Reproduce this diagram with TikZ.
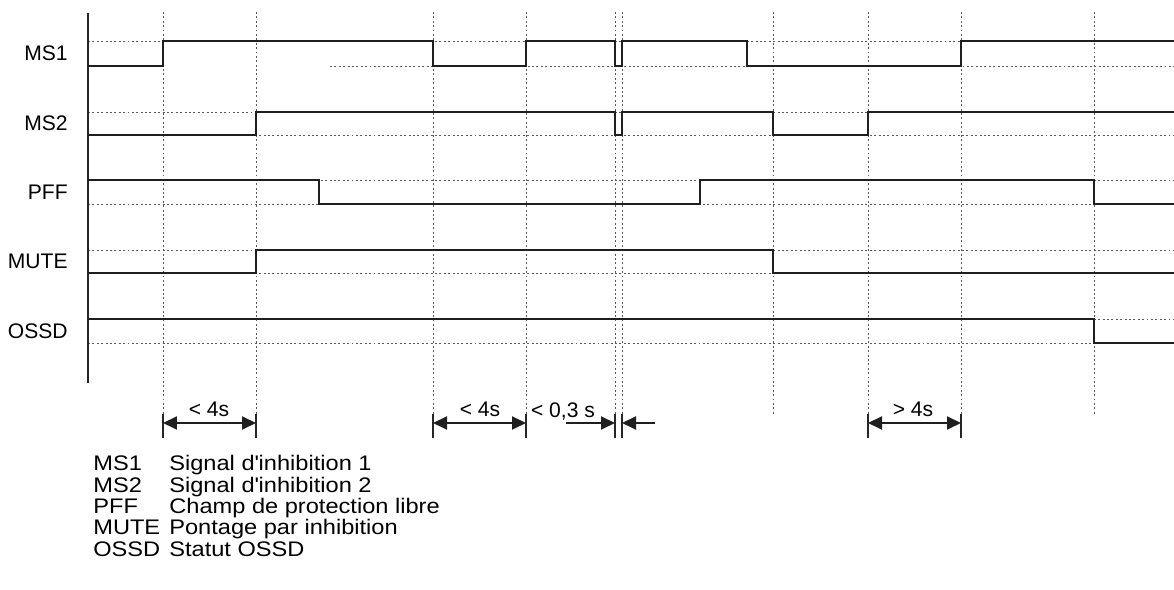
\documentclass[tikz,border=0pt]{standalone}
\usepackage{fontspec}
\setmainfont{Liberation Sans}
\newfontfamily\legfont[FakeStretch=1.12]{Liberation Sans}
\usetikzlibrary{arrows.meta}

\begin{document}
\begin{tikzpicture}[
                x=0.02cm, y=-0.02cm,
                trace/.style={line width=1.1pt, black!88},
                grille/.style={line width=0.55pt, black!65, dash pattern=on 1.1pt off 1.4pt},
                axe/.style={line width=1.1pt, black!85},
                repere/.style={line width=1.1pt, black!85},
                cote/.style={line width=1.1pt, black!88, >={Triangle[length=0.28cm, width=0.26cm]}, <->},
                texte/.style={font=\fontsize{12}{14.4}\selectfont, inner sep=0pt},
                legende/.style={font=\legfont\fontsize{12}{14.4}\selectfont, inner sep=0pt, anchor=base west}
            ]
                \useasboundingbox (0,0) rectangle (1174,590);
                % grille
                \foreach \x in {163,256,433,526,615,622,773,868,961,1094}
                    \draw[grille] (\x,12) -- (\x,415);
                \foreach \h/\b/\d in {41/66/330, 112/135/88, 180/204/88, 250/273/88, 319/343/88} {
                    \draw[grille] (88,\h) -- (1174,\h);
                    \draw[grille] (\d,\b) -- (1174,\b);
                }
                \draw[axe] (88,13) -- (88,383);
                % signaux
                \draw[trace] (88,66) -| (163,41) -| (433,66) -| (526,41) -| (615,66) -| (622,41) -| (747,66) -| (961,41) -- (1174,41);
                \draw[trace] (88,135) -| (256,112) -| (615,135) -| (622,112) -| (773,135) -| (868,112) -- (1174,112);
                \draw[trace] (88,180) -| (319,204) -| (700,180) -| (1094,204) -- (1174,204);
                \draw[trace] (88,273) -| (256,250) -| (773,273) -- (1174,273);
                \draw[trace] (88,319) -| (1094,343) -- (1174,343);
                \node[texte, anchor=east] (ms1) at (68,53.5) {MS1};
                \node[texte, anchor=east] (ms2) at (68,123.5) {MS2};
                \node[texte, anchor=east] (pff) at (68,192) {PFF};
                \node[texte, anchor=east] (mute) at (68,261.5) {MUTE};
                \node[texte, anchor=east] (ossd) at (68,331) {OSSD};
                % cotes
                \foreach \x in {163,256,433,526,615,622,868,961}
                    \draw[repere] (\x,414) -- (\x,438);
                \coordinate (c1) at (163,423);
                \coordinate (c2) at (256,423);
                \coordinate (c3) at (433,423);
                \coordinate (c4) at (526,423);
                \coordinate (c5) at (566,423);
                \coordinate (c6) at (615,423);
                \coordinate (c7) at (622,423);
                \coordinate (c8) at (655,423);
                \coordinate (c9) at (868,423);
                \coordinate (c10) at (961,423);
                \draw[cote] (c1) -- (c2);
                \draw[cote] (c3) -- (c4);
                \draw[cote, ->] (c5) -- (c6);
                \draw[cote, ->] (c8) -- (c7);
                \draw[cote] (c9) -- (c10);
                \node[texte, anchor=base] (t1) at (209,417) {< 4s};
                \node[texte, anchor=base] (t2) at (480,417) {< 4s};
                \node[texte, anchor=base] (t3) at (563,418) {< 0,3 s};
                \node[texte, anchor=base] (t4) at (913,417) {> 4s};
                % legende
                \node[legende] (l1) at (93,471) {MS1};
                \node[legende] (d1) at (169,471) {Signal d\textquotesingle inhibition 1};
                \node[legende] (l2) at (93,492.3) {MS2};
                \node[legende] (d2) at (169,492.3) {Signal d\textquotesingle inhibition 2};
                \node[legende] (l3) at (93,513.6) {PFF};
                \node[legende] (d3) at (169,513.6) {Champ de protection libre};
                \node[legende] (l4) at (93,534.9) {MUTE};
                \node[legende] (d4) at (169,534.9) {Pontage par inhibition};
                \node[legende] (l5) at (93,556.2) {OSSD};
                \node[legende] (d5) at (169,556.2) {Statut OSSD};
            \end{tikzpicture}
\end{document}
